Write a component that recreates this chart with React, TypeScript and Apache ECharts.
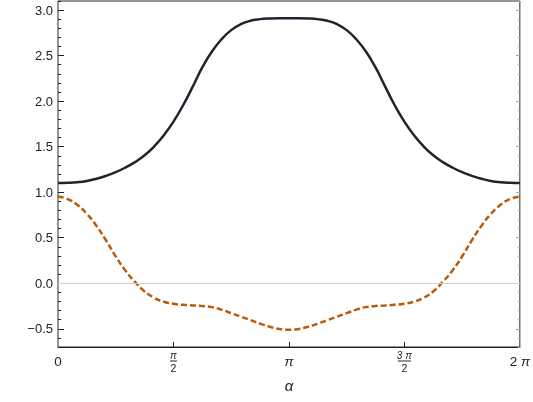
import React, { useEffect, useRef } from "react";
import * as echarts from "echarts";

const alphaValues = [
  0, 0.131, 0.262, 0.393, 0.524, 0.654, 0.785, 0.916, 1.047, 1.178, 1.309, 1.44, 1.571, 1.702, 1.833, 1.963, 2.094,
  2.225, 2.356, 2.487, 2.618, 2.749, 2.88, 3.011, 3.142, 3.272, 3.403, 3.534, 3.665, 3.796, 3.927, 4.058, 4.189, 4.32,
  4.451, 4.581, 4.712, 4.843, 4.974, 5.105, 5.236, 5.367, 5.498, 5.629, 5.76, 5.89, 6.021, 6.152, 6.283,
];
const solidValues = [
  1.1, 1.103, 1.11, 1.124, 1.148, 1.18, 1.22, 1.27, 1.33, 1.405, 1.503, 1.625, 1.775, 1.955, 2.16, 2.37, 2.545, 2.68,
  2.78, 2.845, 2.883, 2.901, 2.908, 2.91, 2.91, 2.91, 2.908, 2.901, 2.883, 2.845, 2.78, 2.68, 2.545, 2.37, 2.16, 1.955,
  1.775, 1.625, 1.503, 1.405, 1.33, 1.27, 1.22, 1.18, 1.148, 1.124, 1.11, 1.103, 1.1,
];
const dashedValues = [
  0.953, 0.925, 0.862, 0.762, 0.63, 0.47, 0.295, 0.14, 0.015, -0.09, -0.16, -0.203, -0.226, -0.237, -0.243, -0.25,
  -0.262, -0.29, -0.328, -0.367, -0.405, -0.443, -0.478, -0.502, -0.51, -0.502, -0.478, -0.443, -0.405, -0.367, -0.328,
  -0.29, -0.262, -0.25, -0.243, -0.237, -0.226, -0.203, -0.16, -0.09, 0.015, 0.14, 0.295, 0.47, 0.63, 0.762, 0.862,
  0.925, 0.953,
];
const xTickValues = [Math.PI / 2, Math.PI, (3 * Math.PI) / 2];
const xLabelValues = [0, Math.PI / 2, Math.PI, (3 * Math.PI) / 2, 2 * Math.PI];
const xLabelTexts = ["{r|0}", "{n|π}\n{b1|}\n{d|2}", "{p|π}", "{n|3 π}\n{b3|}\n{d|2}", "{r|2 }{p|π}"];
const yMajorValues = [-0.5, 0, 0.5, 1, 1.5, 2, 2.5, 3];
const yMinorValues = [
  -0.7, -0.6, -0.4, -0.3, -0.2, -0.1, 0.1, 0.2, 0.3, 0.4, 0.6, 0.7, 0.8, 0.9, 1.1, 1.2, 1.3, 1.4, 1.6, 1.7, 1.8, 1.9,
  2.1, 2.2, 2.3, 2.4, 2.6, 2.7, 2.8, 2.9, 3.1,
];

const FONT = "'Liberation Sans', Arial, sans-serif";

export default function App() {
  const ref = useRef<HTMLDivElement>(null);
  useEffect(() => {
    if (!ref.current) return;
    const chart = echarts.init(ref.current, undefined, { renderer: "svg" });
    const yMin = -0.7;
    const yMax = 3.1;
    const yAx = (position: string, ticks: number[], len: number, color: string, labels: boolean) => ({
      type: "value",
      min: yMin,
      max: yMax,
      position,
      offset: 0,
      axisLine: { show: false, onZero: false },
      axisTick: { show: true, inside: true, length: len, customValues: ticks, lineStyle: { color, width: 1 } },
      axisLabel: labels
        ? {
            show: true,
            customValues: yMajorValues,
            margin: 5,
            fontFamily: FONT,
            fontSize: 13,
            color: "#222",
            formatter: (v: number) => (v < 0 ? "−" + Math.abs(v).toFixed(1) : v.toFixed(1)),
          }
        : { show: false },
      splitLine: { show: false },
    });
    chart.setOption({
      animation: false,
      grid: {
        left: 58,
        right: 13,
        top: 1,
        bottom: 55,
        containLabel: false,
        show: true,
        borderColor: "#2a2a2a",
        borderWidth: 1,
        backgroundColor: "transparent",
      },
      xAxis: [
        {
          type: "value",
          min: 0,
          max: 2 * Math.PI,
          position: "bottom",
          axisLine: { show: true, onZero: false, lineStyle: { color: "#222", width: 1 } },
          axisTick: { show: true, inside: true, length: 5, customValues: xTickValues, lineStyle: { color: "#222" } },
          axisLabel: {
            show: true,
            customValues: xLabelValues,
            margin: -1,
            fontFamily: FONT,
            color: "#222",
            formatter: (v: number) => xLabelTexts[Math.round(v / (Math.PI / 2))],
            rich: {
              r: { fontSize: 13.5, lineHeight: 30, fontFamily: FONT, color: "#222" },
              p: { fontSize: 13.5, lineHeight: 30, fontFamily: FONT, fontStyle: "italic", color: "#222" },
              n: { fontSize: 10, lineHeight: 14, fontFamily: FONT, fontStyle: "italic", color: "#222", verticalAlign: "bottom", align: "center" },
              b1: { width: 7, height: 1, lineHeight: 2, backgroundColor: "#222", align: "center" },
              b3: { width: 13, height: 1, lineHeight: 2, backgroundColor: "#222", align: "center" },
              d: { fontSize: 10.5, lineHeight: 11, fontFamily: FONT, color: "#222", align: "center" },
            },
          },
          splitLine: { show: false },
          name: "α",
          nameLocation: "middle",
          nameGap: 29,
          nameTextStyle: { fontFamily: FONT, fontSize: 15, fontStyle: "italic", color: "#222" },
        },
      ],
      yAxis: [
        yAx("left", yMajorValues, 6, "#222", true),
        yAx("left", yMinorValues, 3, "#222", false),
        yAx("right", yMajorValues, 4, "#aaa", false),
        yAx("right", yMinorValues, 2, "#aaa", false),
      ],
      series: [
        {
          type: "line",
          xAxisIndex: 0,
          yAxisIndex: 0,
          data: alphaValues.map((a, i) => [a, solidValues[i]]),
          smooth: true,
          showSymbol: false,
          symbol: "none",
          lineStyle: { color: "#25212f", width: 2.5 },
          markLine: {
            silent: true,
            symbol: "none",
            label: { show: false },
            lineStyle: { color: "#d0d0d0", width: 1, type: "solid" },
            data: [{ yAxis: 0 }],
          },
          z: 3,
        },
        {
          type: "line",
          xAxisIndex: 0,
          yAxisIndex: 0,
          data: alphaValues.map((a, i) => [a, dashedValues[i]]),
          smooth: true,
          showSymbol: false,
          symbol: "none",
          lineStyle: { color: "#b85c0c", width: 2.5, type: [6, 3] },
          z: 3,
        },
      ],
    });
    return () => chart.dispose();
  }, []);
  return <div ref={ref} style={{ position: "fixed", left: 0, top: 0, width: 533, height: 402 }} />;
}
